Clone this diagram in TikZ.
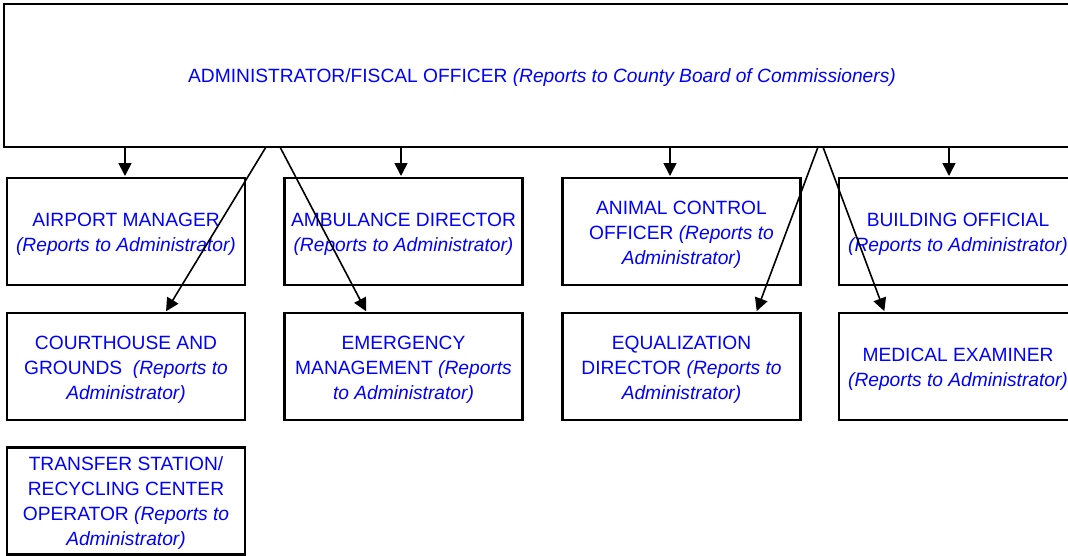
\documentclass[tikz,border=0pt]{standalone}
\usepackage{fontspec}
\setmainfont{Liberation Sans}
\usetikzlibrary{arrows.meta,calc}
\definecolor{txtblue}{RGB}{0,0,255}
\tikzset{
  unit/.style={draw=black, line width=2.2pt, rectangle, outer sep=0pt,
    minimum width=238pt, minimum height=107pt, inner sep=0pt},
  headbox/.style={unit, minimum width=1076pt, minimum height=143pt},
  txt/.style={inner sep=0pt, align=center, text=txtblue,
    font=\fontsize{19.2pt}{25pt}\selectfont},
  arr/.style={draw=black, line width=1.6pt, -{Triangle[length=13pt,width=13pt]}, shorten >=2pt},
}
\newcommand{\rep}[1]{\textit{#1}}
\begin{document}
\begin{tikzpicture}[x=1pt,y=-1pt]
\useasboundingbox (0,0) rectangle (1068,555);
\clip (0,0) rectangle (1068,555);
\node[headbox] (top) at (542,75.5) {};
\node[txt] (top-t) at ([yshift=-2pt]top.center) {ADMINISTRATOR/FISCAL OFFICER \rep{(Reports to County Board of Commissioners)}};

\node[unit] (air) at (126,231.5) {};
\node[unit] (amb) at (403.5,231.5) {};
\node[unit] (anim) at (681.5,231.5) {};
\node[unit] (bld) at (958,231.5) {};
\node[unit] (court) at (126,366.5) {};
\node[unit] (emer) at (403.5,366.5) {};
\node[unit] (equal) at (681.5,366.5) {};
\node[unit] (med) at (958,366.5) {};
\node[unit] (trans) at (126,501) {};

\node[txt] (air-t) at ([yshift=-3pt]air.center) {AIRPORT MANAGER\\\rep{(Reports to Administrator)}};
\node[txt] (amb-t) at ([yshift=-3pt]amb.center) {AMBULANCE DIRECTOR\\\rep{(Reports to Administrator)}};
\node[txt] (anim-t) at ([yshift=-3pt]anim.center) {ANIMAL CONTROL\\OFFICER \rep{(Reports to}\\\rep{Administrator)}};
\node[txt] (bld-t) at ([yshift=-3pt]bld.center) {BUILDING OFFICIAL\\\rep{(Reports to Administrator)}};
\node[txt] (court-t) at ([yshift=-3pt]court.center) {COURTHOUSE AND\\GROUNDS\ \ \rep{(Reports to}\\\rep{Administrator)}};
\node[txt] (emer-t) at ([yshift=-3pt]emer.center) {EMERGENCY\\MANAGEMENT \rep{(Reports}\\\rep{to Administrator)}};
\node[txt] (equal-t) at ([yshift=-3pt]equal.center) {EQUALIZATION\\DIRECTOR \rep{(Reports to}\\\rep{Administrator)}};
\node[txt] (med-t) at ([yshift=-3pt]med.center) {MEDICAL EXAMINER\\\rep{(Reports to Administrator)}};
\node[txt] (trans-t) at ([yshift=-2pt]trans.center) {TRANSFER STATION/\\RECYCLING CENTER\\OPERATOR \rep{(Reports to}\\\rep{Administrator)}};

% vertical connectors
\coordinate (airIn) at ([xshift=-1pt]air.north);
\coordinate (ambIn) at ([xshift=-2.5pt]amb.north);
\coordinate (animIn) at ([xshift=-11.5pt]anim.north);
\coordinate (bldIn) at ([xshift=-9pt]bld.north);
\draw[arr] (top.south -| airIn) -- (airIn);
\draw[arr] (top.south -| ambIn) -- (ambIn);
\draw[arr] (top.south -| animIn) -- (animIn);
\draw[arr] (top.south -| bldIn) -- (bldIn);

% diagonal connectors
\draw[arr] ([xshift=-276pt]top.south) -- ([xshift=39pt]court.north);
\draw[arr] ([xshift=-262pt]top.south) -- ([xshift=-36.5pt]emer.north);
\draw[arr] ([xshift=276pt]top.south) -- ([xshift=74.5pt]equal.north);
\draw[arr] ([xshift=281pt]top.south) -- ([xshift=-73pt]med.north);
\end{tikzpicture}
\end{document}
